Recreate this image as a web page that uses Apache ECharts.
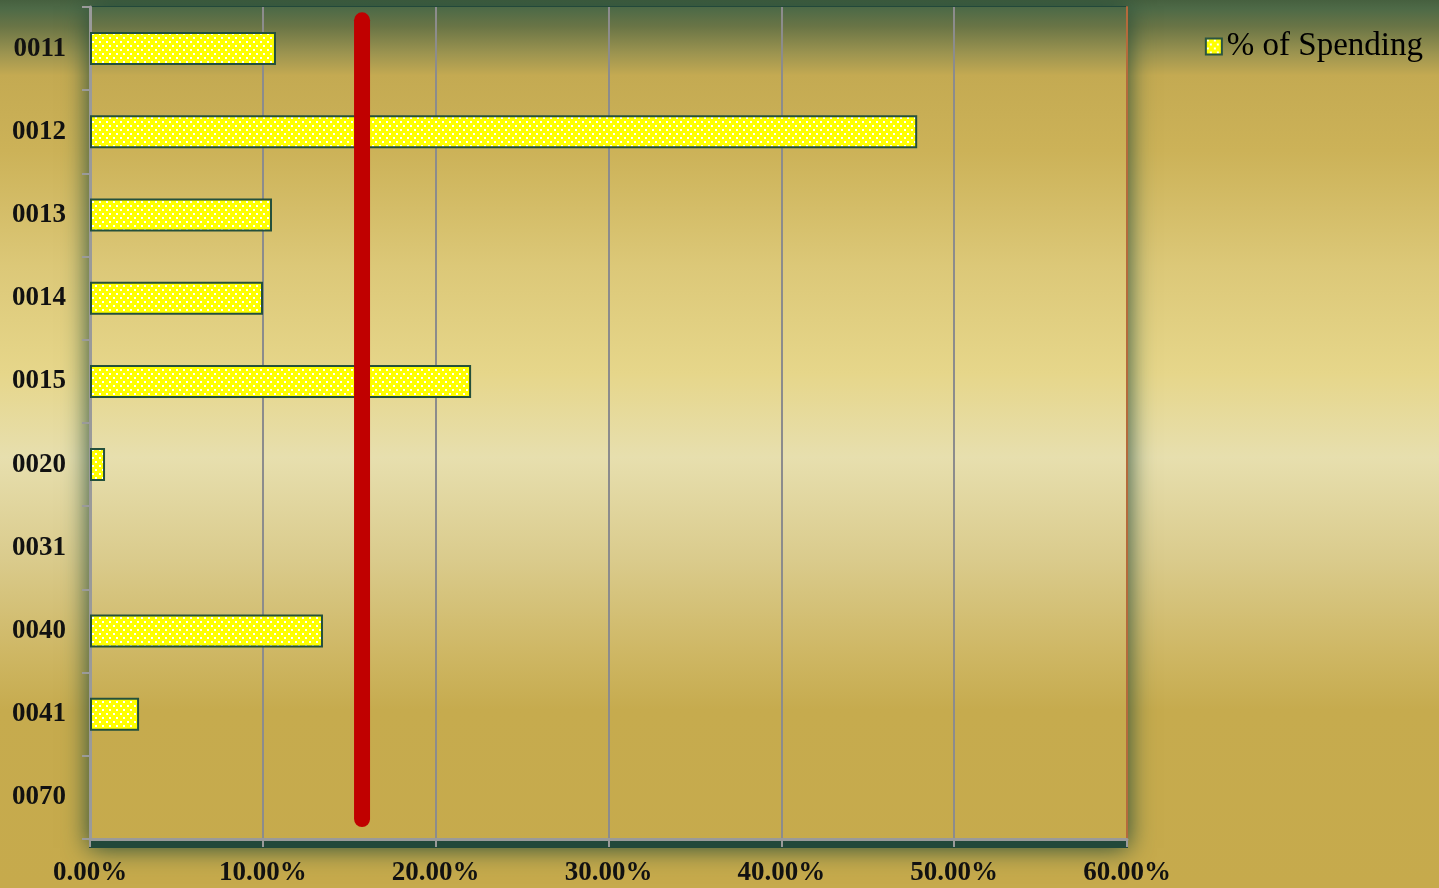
<!DOCTYPE html>
<html>
<head>
<meta charset="utf-8">
<script src="https://cdn.jsdelivr.net/npm/echarts@6/dist/echarts.min.js"></script>
<style>
  html, body { margin: 0; padding: 0; }
  #main { width: 1439px; height: 888px; }
</style>
</head>
<body>
<div id="main"></div>
<script>
// data
var categories = ['0011', '0012', '0013', '0014', '0015', '0020', '0031', '0040', '0041', '0070'];
var spending = [10.76, 47.86, 10.53, 10.01, 22.05, 0.87, 0, 13.48, 2.84, 0];
var averageLine = 15.74;          // red reference line, in %
var averageSpan = [2.4, 98.4];     // vertical extent of the red line, % of plot height
var xMax = 60, xStep = 10;

var FONT = 'Liberation Serif';
var GRID = {left: 90, top: 7, right: 312, bottom: 49};

// yellow fill with small white dots
var dots = document.createElement('canvas');
dots.width = 7; dots.height = 8;
var ctx = dots.getContext('2d');
ctx.fillStyle = '#ffff00';
ctx.fillRect(0, 0, 7, 8);
ctx.fillStyle = '#ffffff';
ctx.fillRect(1, 1, 2, 2);
ctx.fillRect(4, 5, 2, 2);

// page gradient, in page pixels so the grid can reuse it
function pageGradient() {
    return {
        type: 'linear', x: 0, y: 0, x2: 0, y2: 888, global: true,
        colorStops: [
            {offset: 0, color: '#46603f'},
            {offset: 0.01, color: '#4e6a47'},
            {offset: 0.03, color: '#6a7546'},
            {offset: 0.06, color: '#9c9450'},
            {offset: 0.085, color: '#c4aa52'},
            {offset: 0.17, color: '#ccb258'},
            {offset: 0.3, color: '#dcc878'},
            {offset: 0.42, color: '#e6d68a'},
            {offset: 0.515, color: '#e7dfae'},
            {offset: 0.63, color: '#dacb8c'},
            {offset: 0.73, color: '#cfb866'},
            {offset: 0.8, color: '#c6ab4e'},
            {offset: 1, color: '#c6aa4c'}
        ]
    };
}

var myChart = echarts.init(document.getElementById('main'));

var W = 1439, H = 888;
var plotW = W - GRID.left - GRID.right, plotH = H - GRID.top - GRID.bottom;

var option = {
    backgroundColor: pageGradient(),
    animation: false,
    // dark green glow behind the plot area
    graphic: [{
        type: 'rect',
        z: -10,
        silent: true,
        shape: {x: GRID.left - 1, y: GRID.top - 1, width: plotW + 2, height: plotH + 10},
        style: {
            fill: '#22483a',
            shadowBlur: 24,
            shadowColor: 'rgba(34, 74, 56, 1)'
        }
    }],
    legend: {
        data: ['% of Spending'],
        right: 11,
        top: 25,
        itemWidth: 16,
        itemHeight: 16,
        itemGap: 9,
        icon: 'rect',
        itemStyle: {
            color: {image: dots, repeat: 'repeat'},
            borderColor: '#2b5540',
            borderWidth: 2
        },
        textStyle: {
            fontFamily: FONT,
            fontSize: 33,
            color: '#000'
        }
    },
    grid: {
        left: GRID.left,
        top: GRID.top,
        right: GRID.right,
        bottom: GRID.bottom,
        show: true,
        backgroundColor: pageGradient(),
        borderWidth: 0,
        z: 0
    },
    xAxis: {
        type: 'value',
        min: 0,
        max: xMax,
        interval: xStep,
        axisLine: {show: true, lineStyle: {color: '#9a9a9a', width: 3}},
        axisTick: {show: true, length: 8, lineStyle: {color: '#9a9a9a', width: 2}},
        splitLine: {show: true, lineStyle: {color: '#8c8c8c', width: 2}},
        axisLabel: {
            margin: 21,
            fontFamily: FONT,
            fontSize: 27,
            fontWeight: 'bold',
            color: '#111',
            formatter: function (v) { return v.toFixed(2) + '%'; }
        }
    },
    yAxis: [{
        type: 'category',
        data: categories,
        inverse: true,
        axisLine: {show: true, lineStyle: {color: '#9a9a9a', width: 3}},
        axisTick: {show: true, length: 8, lineStyle: {color: '#9a9a9a', width: 2}},
        splitLine: {show: false},
        axisLabel: {
            margin: 24,
            fontFamily: FONT,
            fontSize: 27,
            fontWeight: 'bold',
            color: '#111'
        }
    }, {
        type: 'value',
        min: 0,
        max: 100,
        position: 'right',
        axisLine: {show: true, lineStyle: {color: '#b46a3c', width: 2}},
        axisTick: {show: false},
        axisLabel: {show: false},
        splitLine: {show: false}
    }],
    series: [{
        name: '% of Spending',
        type: 'bar',
        yAxisIndex: 0,
        barWidth: 33,
        data: spending.map(function (v) { return v === 0 ? '-' : v; }),
        itemStyle: {
            color: {image: dots, repeat: 'repeat'},
            borderColor: '#24503c',
            borderWidth: 2
        }
    }, {
        name: 'average',
        type: 'line',
        yAxisIndex: 1,
        silent: true,
        showSymbol: false,
        data: [[averageLine, averageSpan[0]], [averageLine, averageSpan[1]]],
        lineStyle: {color: '#c00000', width: 16, cap: 'round'},
        z: 5
    }]
};

myChart.setOption(option);
</script>
</body>
</html>
